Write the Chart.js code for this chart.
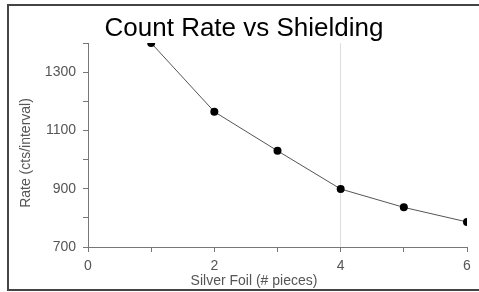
<!DOCTYPE html>
<html>
<head>
<meta charset="utf-8">
<script src="https://cdn.jsdelivr.net/npm/chart.js@4"></script>
<style>
  html, body { margin: 0; padding: 0; background: #fff; }
  #wrap { width: 479px; height: 292px; }
</style>
</head>
<body>
<div id="wrap"><canvas id="myChart" width="479" height="292"></canvas></div>
<script>
// data
var foilPieces = [1, 2, 3, 4, 5, 6];
var countRate = [1400, 1164, 1030, 899, 836, 786];
var xTickLabels = [0, 2, 4, 6];
var yTickLabels = [700, 900, 1100, 1300];

var chartTitle = 'Count Rate vs Shielding';
var xTitle = 'Silver Foil (# pieces)';
var yTitle = 'Rate (cts/interval)';

var points = foilPieces.map(function (x, i) { return { x: x, y: countRate[i] }; });

// frame, title and axis titles
var decorations = {
  id: 'decorations',
  beforeDraw: function (chart) {
    var ctx = chart.ctx;
    ctx.save();
    ctx.fillStyle = '#fff';
    ctx.fillRect(0, 0, chart.width, chart.height);
    ctx.strokeStyle = '#444';
    ctx.lineWidth = 2;
    ctx.strokeRect(8, 5, chart.width, 285);
    ctx.restore();
  },
  afterDraw: function (chart) {
    var ctx = chart.ctx;
    ctx.save();
    ctx.fillStyle = '#000';
    ctx.font = '26px "Liberation Sans", Arial, sans-serif';
    ctx.textAlign = 'center';
    ctx.textBaseline = 'alphabetic';
    ctx.fillText(chartTitle, 244, 36);

    ctx.fillStyle = '#555';
    ctx.font = '14px "Liberation Sans", Arial, sans-serif';
    ctx.textBaseline = 'middle';
    ctx.fillText(xTitle, 254, 281);

    ctx.translate(26, 153);
    ctx.rotate(-Math.PI / 2);
    ctx.fillText(yTitle, 0, 0);
    ctx.restore();
  }
};

var ctx = document.getElementById('myChart').getContext('2d');
window.myChart = new Chart(ctx, {
  type: 'line',
  data: {
    datasets: [{
      data: points,
      borderColor: '#555',
      borderWidth: 1,
      pointRadius: 4,
      pointBackgroundColor: '#000',
      pointBorderColor: '#000',
      pointBorderWidth: 0,
      tension: 0
    }]
  },
  plugins: [decorations],
  options: {
    responsive: false,
    animation: false,
    layout: { padding: { top: 43, right: 12, left: 0, bottom: 0 } },
    plugins: {
      legend: { display: false },
      tooltip: { enabled: false }
    },
    scales: {
      x: {
        type: 'linear',
        min: 0,
        max: 6,
        afterFit: function (scale) { scale.height = 45; },
        ticks: {
          stepSize: 1,
          color: '#555',
          padding: 6,
          maxRotation: 0,
          font: { size: 14, family: '"Liberation Sans", Arial, sans-serif' },
          callback: function (v) { return xTickLabels.indexOf(v) >= 0 ? String(v) : ''; }
        },
        grid: {
          color: function (c) { return c.tick && c.tick.value === 4 ? '#ddd' : 'rgba(0,0,0,0)'; },
          tickColor: '#777',
          tickLength: 5
        },
        border: { color: '#777', width: 1 }
      },
      y: {
        type: 'linear',
        min: 700,
        max: 1400,
        afterFit: function (scale) { scale.width = 88; },
        ticks: {
          stepSize: 100,
          color: '#555',
          padding: 7,
          font: { size: 14, family: '"Liberation Sans", Arial, sans-serif' },
          callback: function (v) { return yTickLabels.indexOf(v) >= 0 ? String(v) : ''; }
        },
        grid: {
          drawOnChartArea: false,
          tickColor: '#777',
          tickLength: 5
        },
        border: { color: '#777', width: 1 }
      }
    }
  }
});
</script>
</body>
</html>
